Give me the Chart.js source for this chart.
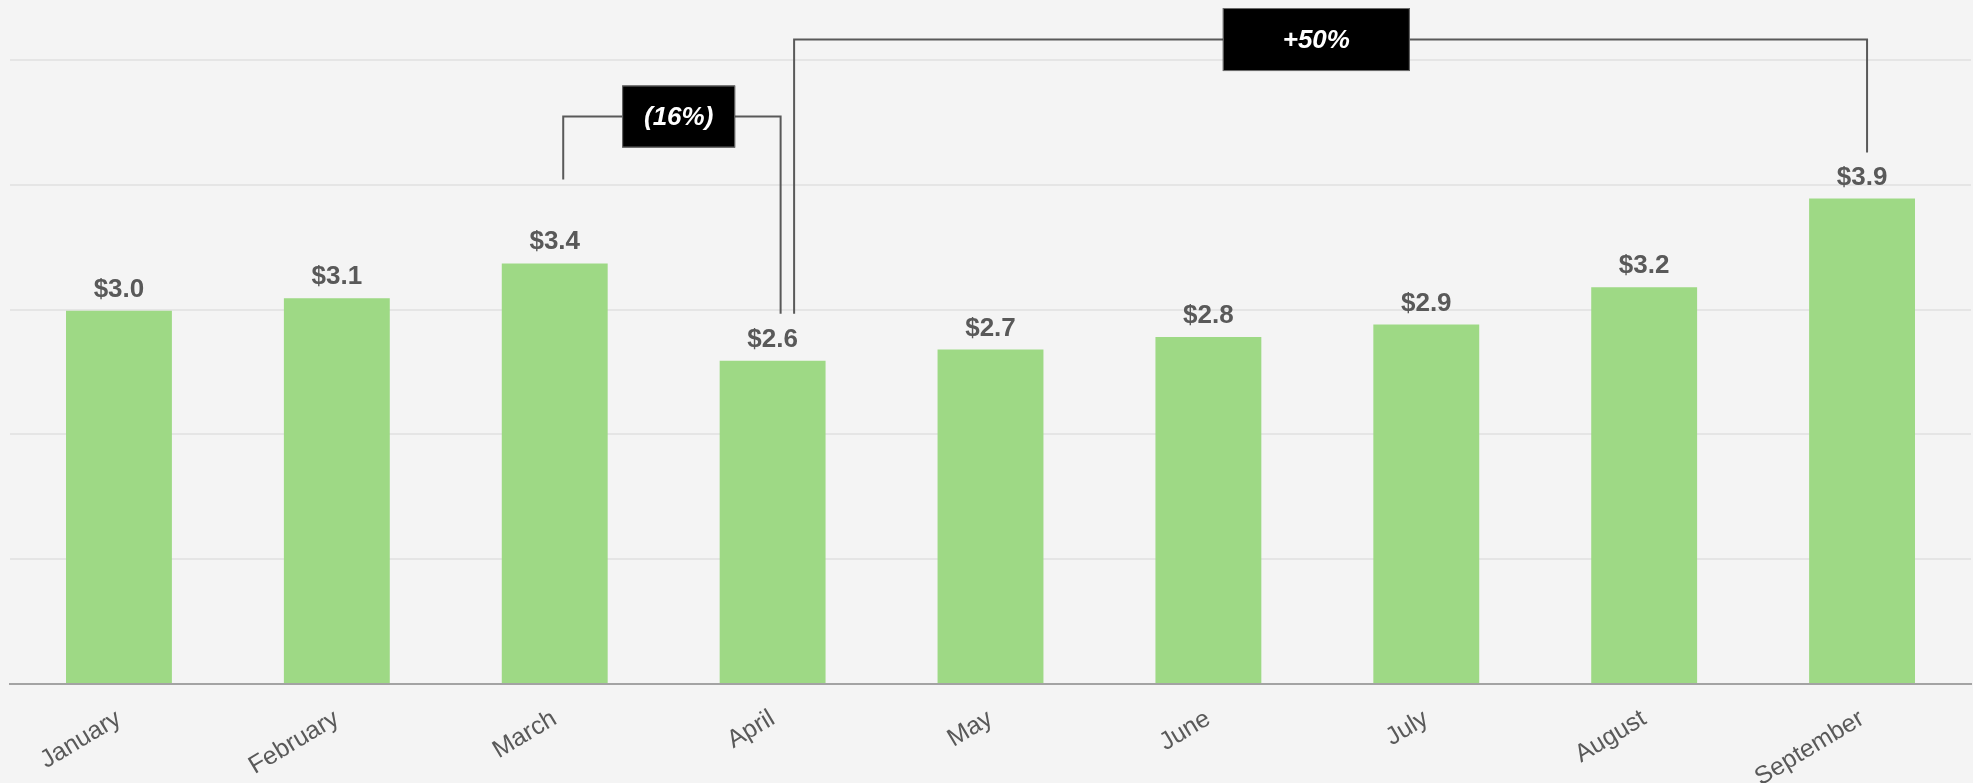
<!DOCTYPE html>
<html>
<head>
<meta charset="utf-8">
<script src="https://cdn.jsdelivr.net/npm/chart.js@4.4.1/dist/chart.umd.min.js"></script>
<style>
  html, body { margin: 0; padding: 0; background: #f4f4f4; }
  canvas { display: block; }
</style>
</head>
<body>
<canvas id="revenue-chart" width="1973" height="783"></canvas>
<script>
// Chart data
const months = ['January', 'February', 'March', 'April', 'May', 'June', 'July', 'August', 'September'];
const revenue = [2.99, 3.09, 3.37, 2.59, 2.68, 2.78, 2.88, 3.18, 3.89];

// Change callouts: from bar -> to bar, text and the value level of the bracket
const changeLabels = ['(16%)', '+50%'];
const changeFrom = [2, 3];
const changeTo = [3, 8];
const changeLevel = [4.547, 5.164];

// Styling for the callouts (pixels)
const bracketStyle = [
  { legOffset: [8.5, 8], legGap: [84, 47], boxShift: 15, boxSize: [113, 62] },
  { legOffset: [21.5, 5], legGap: [47, 46], boxShift: -1, boxSize: [187, 63] }
];

const FONT = '"Liberation Sans", Arial, sans-serif';
const TEXT_GREY = '#595959';

// Draw the $ value above every bar
const valueLabels = {
  id: 'valueLabels',
  afterDatasetsDraw(chart) {
    const ctx = chart.ctx;
    const bars = chart.getDatasetMeta(0).data;
    ctx.save();
    ctx.font = 'bold 26px ' + FONT;
    ctx.fillStyle = TEXT_GREY;
    ctx.textAlign = 'center';
    ctx.textBaseline = 'alphabetic';
    bars.forEach(function(bar, i) {
      ctx.fillText('$' + revenue[i].toFixed(1), bar.x, bar.y - 14);
    });
    ctx.restore();
  }
};

// Draw the bracket callouts with the black boxes
const changeBrackets = {
  id: 'changeBrackets',
  afterDatasetsDraw(chart) {
    const ctx = chart.ctx;
    const yScale = chart.scales.y;
    const bars = chart.getDatasetMeta(0).data;
    ctx.save();
    changeLabels.forEach(function(text, k) {
      const s = bracketStyle[k];
      const a = bars[changeFrom[k]];
      const b = bars[changeTo[k]];
      const xa = a.x + s.legOffset[0];
      const xb = b.x + s.legOffset[1];
      const ya = a.y - s.legGap[0];
      const yb = b.y - s.legGap[1];
      const yl = yScale.getPixelForValue(changeLevel[k]);

      ctx.strokeStyle = TEXT_GREY;
      ctx.lineWidth = 2;
      ctx.beginPath();
      ctx.moveTo(xa, ya);
      ctx.lineTo(xa, yl);
      ctx.lineTo(xb, yl);
      ctx.lineTo(xb, yb);
      ctx.stroke();

      const cx = (a.x + b.x) / 2 + s.boxShift;
      const w = s.boxSize[0], h = s.boxSize[1];
      ctx.fillStyle = '#000000';
      ctx.fillRect(cx - w / 2, yl - h / 2, w, h);
      ctx.strokeStyle = '#6e6e6e';
      ctx.lineWidth = 1;
      ctx.strokeRect(cx - w / 2 + 0.5, yl - h / 2 + 0.5, w - 1, h - 1);

      ctx.fillStyle = '#ffffff';
      ctx.font = 'italic bold 26px ' + FONT;
      ctx.textAlign = 'center';
      ctx.textBaseline = 'middle';
      ctx.fillText(text, cx, yl + 1);
    });
    ctx.restore();
  }
};

new Chart(document.getElementById('revenue-chart'), {
  type: 'bar',
  data: {
    labels: months,
    datasets: [{
      label: 'Revenue',
      data: revenue,
      backgroundColor: '#9ed985',
      borderWidth: 0,
      barPercentage: 0.486,
      categoryPercentage: 1.0
    }]
  },
  options: {
    responsive: false,
    animation: false,
    layout: {
      padding: { left: 10, right: 2, top: 60, bottom: 0 }
    },
    plugins: {
      legend: { display: false },
      tooltip: { enabled: false }
    },
    scales: {
      x: {
        grid: { display: false, drawTicks: false },
        border: { display: true, color: '#a3a3a3', width: 2 },
        ticks: {
          color: TEXT_GREY,
          font: { family: FONT, size: 25 },
          minRotation: 31,
          maxRotation: 31,
          padding: 20
        },
        afterFit: function(scale) { scale.height = 99; }
      },
      y: {
        min: 0,
        max: 5,
        ticks: { display: false, stepSize: 1 },
        grid: {
          drawTicks: false,
          lineWidth: 2,
          color: function(ctx) { return ctx.tick && ctx.tick.value === 0 ? '#a3a3a3' : '#e5e5e5'; }
        },
        border: { display: false }
      }
    }
  },
  plugins: [valueLabels, changeBrackets]
});
</script>
</body>
</html>
